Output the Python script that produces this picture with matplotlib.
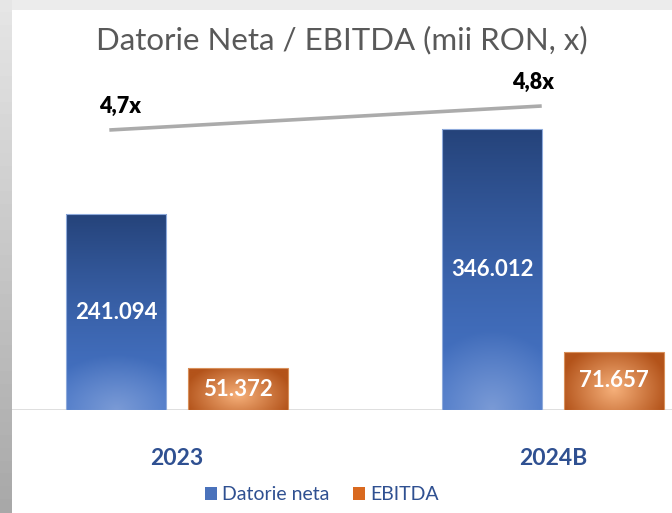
import numpy as np
import matplotlib.pyplot as plt
from matplotlib.colors import to_rgb
from matplotlib.patches import Rectangle

categories = ["2023", "2024B"]
datorie_neta = [241.094, 346.012]
ebitda = [51.372, 71.657]
ratio = [4.7, 4.8]
ratio_labels = ["4,7x", "4,8x"]
series_names = ["Datorie neta", "EBITDA"]

plt.rcParams['font.family'] = ['Lato', 'DejaVu Sans']

W, H = 672, 513
fig = plt.figure(figsize=(W / 100, H / 100), dpi=100)
fig.patch.set_facecolor('white')

# grey frame (screenshot shadow) on top and left
fig.patches.append(Rectangle((0, 1 - 10 / H), 1, 10 / H, transform=fig.transFigure,
                             facecolor='#ececec', edgecolor='none', zorder=0))
n = 40
for i in range(n):
    g = 0.90 - 0.24 * i / (n - 1)
    fig.patches.append(Rectangle((0, 1 - (i + 1) / n), 12 / W, 1 / n + 0.002,
                                 transform=fig.transFigure, facecolor=(g, g, g),
                                 edgecolor='none', zorder=0))

# axes placed so baseline sits at y=410px and group centres at 177 / 553 px
base_px = 410
top_px = 60
ax = fig.add_axes([12 / W, (H - base_px) / H, (W - 12) / W, (base_px - top_px) / H])
px_per_unit = 281 / 346.012
ax.set_ylim(0, (base_px - top_px) / px_per_unit)
grp = 376.0
ax.set_xlim((12 - 177) / grp, (W - 177) / grp)
ax.axis('off')
ax.axhline(0, color='#d9d9d9', lw=1.2, zorder=1)

x = np.arange(len(categories))
off = 61 / grp
bw = 100 / grp


def blue_img():
    u, v = np.meshgrid(np.linspace(0, 1, 60), np.linspace(1, 0, 200))
    top = np.array(to_rgb('#25437a'))
    mid = np.array(to_rgb('#4674c6'))
    light = np.array(to_rgb('#9db4e0'))
    t = (v ** 1.4)[..., None]
    img = top[None, None, :] * t + mid[None, None, :] * (1 - t)
    r = np.sqrt(((u - 0.5) / 0.75) ** 2 + (v / 0.28) ** 2)
    k = np.clip(1 - r, 0, 1)[..., None] * 0.6
    return img * (1 - k) + light * k


def orange_img():
    u, v = np.meshgrid(np.linspace(0, 1, 100), np.linspace(1, 0, 60))
    c = np.array(to_rgb('#f6b07a'))
    e = np.array(to_rgb('#b3531a'))
    r = np.clip(np.sqrt(((u - 0.5) / 0.55) ** 2 + ((v - 0.35) / 0.8) ** 2), 0, 1)[..., None]
    return c * (1 - r) + e * r


b1 = ax.bar(x - off, datorie_neta, bw, color='none', edgecolor='#8eaadb', lw=0.8, zorder=3)
b2 = ax.bar(x + off, ebitda, bw, color='none', edgecolor='#d8905a', lw=0.8, zorder=3)
for bars, maker in ((b1, blue_img), (b2, orange_img)):
    for p in bars:
        x0, y0 = p.get_x(), p.get_y()
        im = ax.imshow(maker(), extent=[x0, x0 + p.get_width(), y0, y0 + p.get_height()],
                       aspect='auto', zorder=2, interpolation='bilinear')
        im.set_clip_path(p)
ax.set_xlim((12 - 177) / grp, (W - 177) / grp)
ax.set_ylim(0, (base_px - top_px) / px_per_unit)

for bars, vals in ((b1, datorie_neta), (b2, ebitda)):
    for p, v in zip(bars, vals):
        ax.text(p.get_x() + p.get_width() / 2, v / 2,
                f"{v:.3f}", ha='center', va='center', color='white',
                fontsize=16, fontweight='bold', zorder=4)

for xi, c in zip(x, categories):
    ax.annotate(c, (xi, 0), xytext=(0, -35), textcoords='offset points',
                ha='center', va='center', fontsize=16.5, fontweight='bold',
                color='#2f5091', annotation_clip=False)

# ratio line on secondary scale
ax2 = ax.twinx()
ax2.set_xlim(ax.get_xlim())
rpx = 240
ax2.set_ylim(4.7 - (base_px - 130) / rpx, 4.7 - (base_px - 130) / rpx + (base_px - top_px) / rpx)
ax2.axis('off')
lx = x + np.array([-0.18, -0.03])
ax2.plot(lx, ratio, color='#ababab', lw=2.6, solid_capstyle='butt', zorder=3)
for xi, r, t, dx in zip(lx, ratio, ratio_labels, (8, -6)):
    ax2.annotate(t, (xi, r), xytext=(dx, 17), textcoords='offset points',
                 ha='center', va='center', fontsize=15.5, fontweight='heavy', color='black')

fig.text(342 / W, 1 - 40 / H, "Datorie Neta / EBITDA (mii RON, x)", ha='center', va='center',
         fontsize=22.5, color='#595959')

h = [Rectangle((0, 0), 1, 1, facecolor='#4a72bb'), Rectangle((0, 0), 1, 1, facecolor='#d9691f')]
fig.legend(h, series_names, loc='center', bbox_to_anchor=(322 / W, 1 - 495 / H), ncol=2,
           frameon=False, fontsize=14, handlelength=0.6, handleheight=0.6,
           handletextpad=0.3, columnspacing=1.2, labelcolor='#2f5091')

fig.savefig('out.png', dpi=100, facecolor=fig.get_facecolor())
